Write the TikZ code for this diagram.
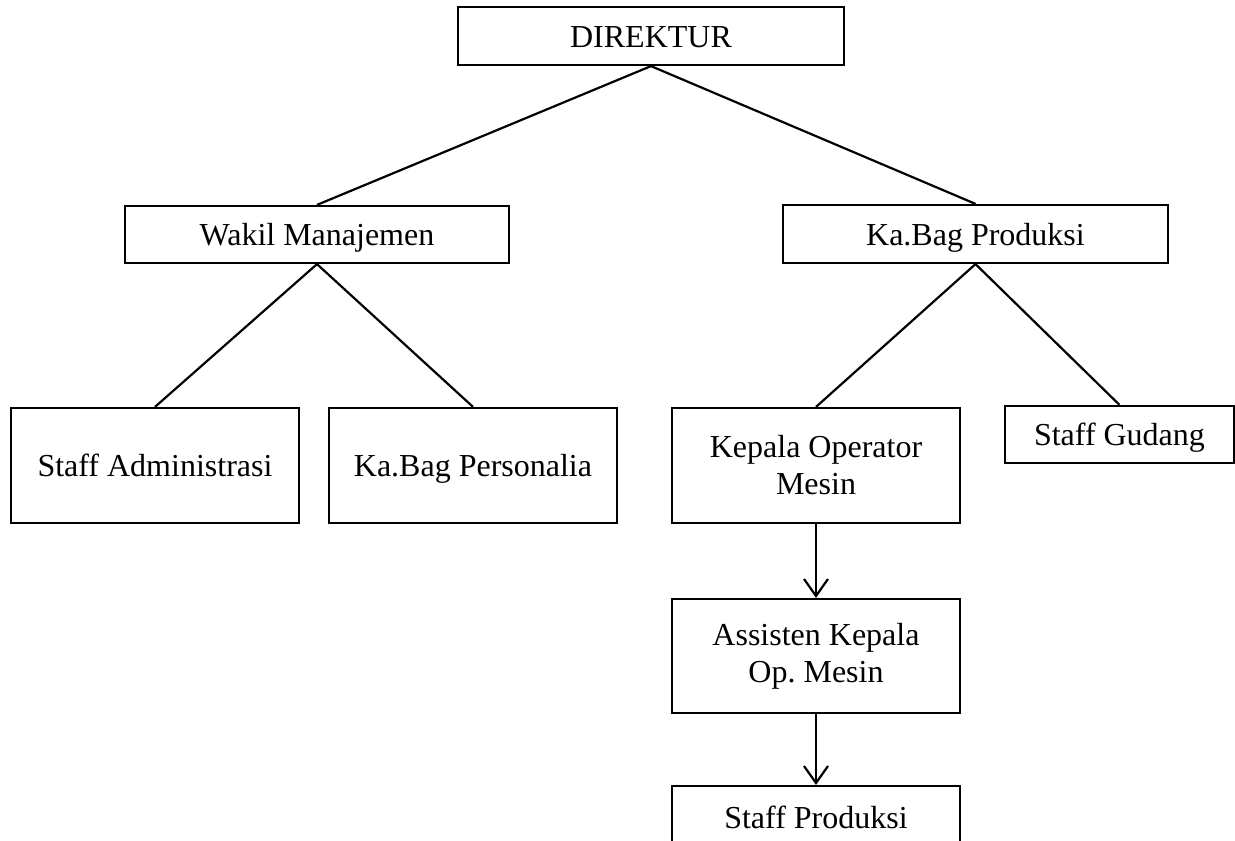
\documentclass[tikz,border=0pt]{standalone}
\usepackage{fontspec}
\setmainfont{Liberation Serif}
\usetikzlibrary{arrows.meta}
\frenchspacing
\begin{document}
\begin{tikzpicture}[x=1pt,y=-1pt,
  box/.style={draw, line width=2.2pt, rectangle, inner sep=0pt, align=center,
    font=\fontsize{32}{37}\selectfont\frenchspacing},
  one/.style={text height=22pt, text depth=0pt},
  conn/.style={line width=2.2pt},
  arr/.style={line width=2.2pt, -{Straight Barb[length=17pt,width=24pt,line width=2.2pt]}}]
\useasboundingbox (0,0) rectangle (1235,841);
\begin{scope}
\clip (0,0) rectangle (1235,841);
\node[box, one, minimum width=386pt, minimum height=58pt] (dir) at (651,36) {DIREKTUR};
\node[box, one, minimum width=384pt, minimum height=57pt] (wak) at (317,234.5) {Wakil Manajemen};
\node[box, one, minimum width=385pt, minimum height=58pt] (prod) at (975.5,234) {Ka.Bag Produksi};
\node[box, one, minimum width=288pt, minimum height=115pt] (adm) at (155,465.5) {Staff Administrasi};
\node[box, one, minimum width=288pt, minimum height=115pt] (pers) at (473,465.5) {Ka.Bag Personalia};
\node[box, minimum width=288pt, minimum height=115pt] (kep) at (816,465.5) {Kepala Operator\\Mesin};
\node[box, one, minimum width=229pt, minimum height=57pt] (gud) at (1119.5,434.5) {Staff Gudang};
\node[box, minimum width=288pt, minimum height=114pt] (asis) at (816,656) {Assisten Kepala\\Op. Mesin};
\node[box, one, minimum width=288pt, minimum height=62pt] (sp) at (816,817) {Staff Produksi};
\draw[conn] (dir.south) -- (wak.north);
\draw[conn] (dir.south) -- (prod.north);
\draw[conn] (wak.south) -- (adm.north);
\draw[conn] (wak.south) -- (pers.north);
\draw[conn] (prod.south) -- (kep.north);
\draw[conn] (prod.south) -- (gud.north);
\draw[arr] (kep.south) -- (asis.north);
\draw[arr] (asis.south) -- (sp.north);
\end{scope}
\end{tikzpicture}
\end{document}
